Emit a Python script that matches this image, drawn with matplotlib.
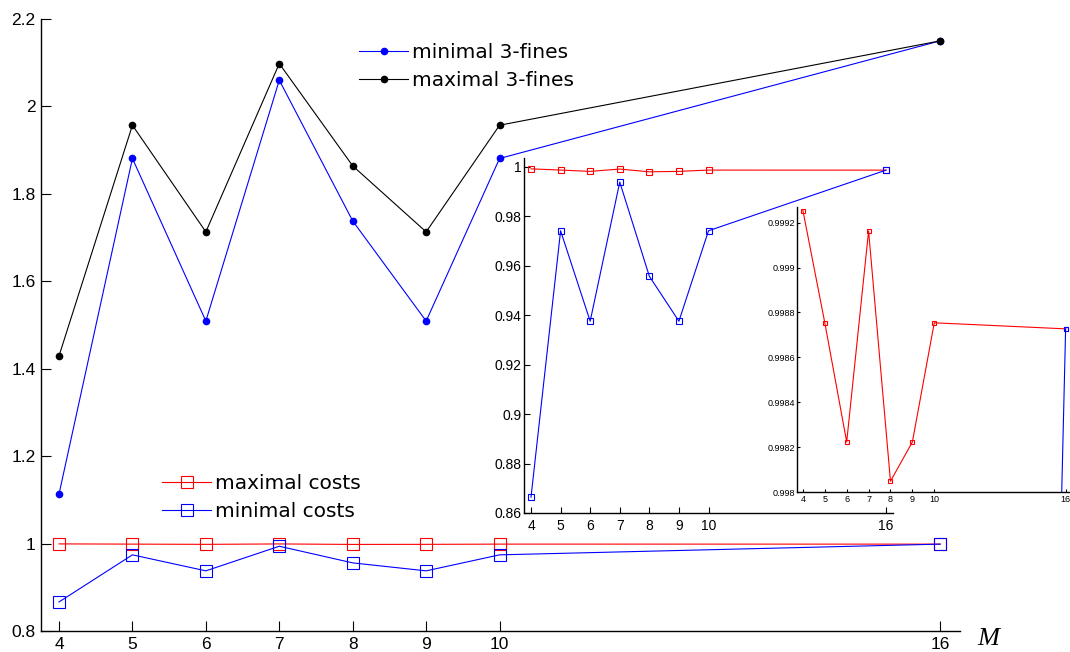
import numpy as np
import matplotlib
matplotlib.use("Agg")
import matplotlib.pyplot as plt

# values
M = [4, 5, 6, 7, 8, 9, 10, 16]
min_fines = [1.113, 1.881, 1.509, 2.060, 1.738, 1.509, 1.881, 2.150]
max_fines = [1.429, 1.957, 1.713, 2.098, 1.864, 1.713, 1.957, 2.150]
max_costs = [0.999254, 0.998754, 0.998223, 0.999163, 0.998048, 0.998223, 0.998754, 0.998727]
min_costs = [0.8664, 0.9742, 0.9376, 0.9939, 0.9558, 0.9376, 0.9742, 0.998727]

main_yticks = [0.8, 1, 1.2, 1.4, 1.6, 1.8, 2, 2.2]
main_ylabels = ["0.8", "1", "1.2", "1.4", "1.6", "1.8", "2", "2.2"]
in1_yticks = [0.86, 0.88, 0.9, 0.92, 0.94, 0.96, 0.98, 1]
in1_ylabels = ["0.86", "0.88", "0.9", "0.92", "0.94", "0.96", "0.98", "1"]
in2_yticks = [0.998, 0.9982, 0.9984, 0.9986, 0.9988, 0.999, 0.9992]
in2_ylabels = ["0.998", "0.9982", "0.9984", "0.9986", "0.9988", "0.999", "0.9992"]
xlabels = [str(m) for m in M]

W, H = 1070, 652
fig = plt.figure(figsize=(W / 100, H / 100), dpi=100)
tickfont = "Liberation Sans"


def box(l, r, b, t):
    # pixel box -> figure fraction
    return [l / W, 1 - b / H, (r - l) / W, (b - t) / H]


def style(ax, fs, tl, ypad, xpad):
    for s in ["top", "right"]:
        ax.spines[s].set_visible(False)
    for s in ["left", "bottom"]:
        ax.spines[s].set_linewidth(1.0)
    ax.tick_params(direction="in", length=tl, width=0.8, labelsize=fs)
    ax.tick_params(axis="y", pad=ypad)
    ax.tick_params(axis="x", pad=xpad)
    for lab in ax.get_xticklabels() + ax.get_yticklabels():
        lab.set_fontfamily(tickfont)


# main axes
ax = fig.add_axes(box(41, 960, 631, 19))
ax.set_facecolor("none")
l1, = ax.plot(M, min_fines, "-o", color="blue", lw=0.8, ms=4.5, label="minimal 3-fines")
l2, = ax.plot(M, max_fines, "-o", color="black", lw=0.8, ms=4.5, label="maximal 3-fines")
l3, = ax.plot(M, max_costs, "-s", color="red", lw=0.8, ms=8, mfc="none", mew=0.8, label="maximal costs")
l4, = ax.plot(M, min_costs, "-s", color="blue", lw=0.8, ms=8, mfc="none", mew=0.8, label="minimal costs")
ax.set_xlim(3.755, 16.27)
ax.set_ylim(0.8, 2.2)
ax.set_xticks(M)
ax.set_xticklabels(xlabels)
ax.set_yticks(main_yticks)
ax.set_yticklabels(main_ylabels)
style(ax, 12.5, 7, 4, 4.5)
fig.text(977 / W, 1 - 645 / H, "M", fontsize=19, fontstyle="italic",
         family="Liberation Serif")

leg1 = ax.legend(handles=[l1, l2], loc="upper left", frameon=False,
                 bbox_to_anchor=(359 / W, 1 - 43 / H), bbox_transform=fig.transFigure,
                 borderpad=0, borderaxespad=0, handlelength=2.45, handletextpad=0.2,
                 labelspacing=0.45, prop={"family": "DejaVu Sans", "size": 14.5})
ax.add_artist(leg1)
ax.legend(handles=[l3, l4], loc="upper left", frameon=False,
          bbox_to_anchor=(162 / W, 1 - 474 / H), bbox_transform=fig.transFigure,
          borderpad=0, borderaxespad=0, handlelength=2.45, handletextpad=0.2,
          labelspacing=0.45, prop={"family": "DejaVu Sans", "size": 14.5})

# first inset: costs
ax1 = fig.add_axes(box(524, 893, 513, 158))
ax1.set_facecolor("none")
ax1.plot(M, max_costs, "-s", color="red", lw=0.8, ms=5, mfc="none", mew=0.8)
ax1.plot(M, min_costs, "-s", color="blue", lw=0.8, ms=5, mfc="none", mew=0.8)
ax1.set_xlim(3.763, 16.237)
ax1.set_ylim(0.86, 1.00364)
ax1.set_xticks(M)
ax1.set_xticklabels(xlabels)
ax1.set_yticks(in1_yticks)
ax1.set_yticklabels(in1_ylabels)
style(ax1, 10, 4, 2, 4)

# second inset: zoom on maximal costs
ax2 = fig.add_axes(box(797, 1070, 492, 207))
ax2.set_facecolor("none")
ax2.plot(M, max_costs, "-s", color="red", lw=0.8, ms=3.5, mfc="none", mew=0.8)
ax2.plot(M, min_costs, "-s", color="blue", lw=0.8, ms=3.5, mfc="none", mew=0.8)
ax2.set_xlim(3.73, 16.2)
ax2.set_ylim(0.998, 0.99927)
ax2.set_xticks(M)
ax2.set_xticklabels(xlabels)
ax2.set_yticks(in2_yticks)
ax2.set_yticklabels(in2_ylabels)
style(ax2, 6.5, 2.5, 1, 2.5)

fig.savefig("out.png", dpi=100)
